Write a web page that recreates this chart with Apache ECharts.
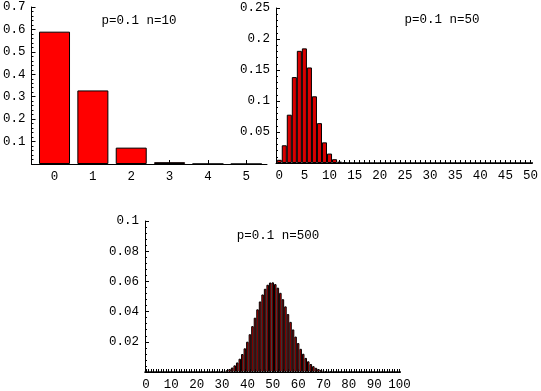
<!DOCTYPE html>
<html>
<head>
<meta charset="utf-8">
<script src="https://cdn.jsdelivr.net/npm/echarts@6/dist/echarts.min.js"></script>
<style>
html,body{margin:0;padding:0;background:#fff;}
#chart{width:541px;height:391px;}
</style>
</head>
<body>
<div id="chart"></div>
<script>
// ---- data ----
const titles = ['p=0.1 n=10', 'p=0.1 n=50', 'p=0.1 n=500'];

// panel 1: x = 0..5
const vals1 = [0.590, 0.328, 0.073, 0.0081, 0.0005, 0.00001];
// panel 2: x = 0..50
const vals2 = [0.00515, 0.0286, 0.0779, 0.1386, 0.1809, 0.1849, 0.1541, 0.1076, 0.0643, 0.0333,
  0.0152, 0.0061, 0.0022, 0.0007, 0.0002, 0.00006, 0.00001, 0.000003, 0, 0,
  0, 0, 0, 0, 0, 0, 0, 0, 0, 0,
  0, 0, 0, 0, 0, 0, 0, 0, 0, 0,
  0, 0, 0, 0, 0, 0, 0, 0, 0, 0,
  0];
// panel 3: x = 0..100
const vals3 = [0, 0, 0, 0, 0, 0, 0, 0, 0, 0,
  0, 0, 0, 0, 0, 0, 0, 0, 0, 0,
  0, 0.0000007, 0.0000018, 0.0000041, 0.0000091, 0.0000192, 0.000039, 0.0000761, 0.000143, 0.000258,
  0.000451, 0.00076, 0.001237, 0.001949, 0.002974, 0.004399, 0.006313, 0.008797, 0.011909, 0.015675,
  0.020073, 0.025024, 0.030386, 0.035961, 0.0415, 0.046726, 0.051353, 0.055117, 0.057796, 0.059238,
  0.05937, 0.058206, 0.055843, 0.052448, 0.048239, 0.043464, 0.038376, 0.033214, 0.028188, 0.023463,
  0.019162, 0.015358, 0.012083, 0.009334, 0.007081, 0.005278, 0.003865, 0.002782, 0.001968, 0.001369,
  0.000937, 0.00063, 0.000417, 0.000272, 0.000174, 0.00011, 0.0000684, 0.0000418, 0.0000252, 0.000015,
  0.0000087, 0.000005, 0.0000029, 0.0000016, 0.0000009, 0.0000005, 0.0000003, 0, 0, 0,
  0, 0, 0, 0, 0, 0, 0, 0, 0, 0,
  0];

// tick labels
const xLabels1 = [0, 1, 2, 3, 4, 5];
const xLabels2 = [0, 5, 10, 15, 20, 25, 30, 35, 40, 45, 50];
const xLabels3 = [0, 10, 20, 30, 40, 50, 60, 70, 80, 90, 100];
const yLabels1 = [0.1, 0.2, 0.3, 0.4, 0.5, 0.6, 0.7];
const yLabels2 = [0.05, 0.1, 0.15, 0.2, 0.25];
const yLabels3 = [0.02, 0.04, 0.06, 0.08, 0.1];

// ---- layout ----
const FONT = 'Liberation Mono';
const grids = [
  {left: 29, top: 7, width: 238, height: 157, xmin: -0.6, xmax: 5.54, ymax: 0.7, yint: 0.1, barFrac: 0.8, color: '#ff0000'},
  {left: 276, top: 8, width: 257, height: 155, xmin: -0.65, xmax: 50.25, ymax: 0.25, yint: 0.05, barFrac: 1, color: '#d80000'},
  {left: 145, top: 221, width: 255, height: 155, xmin: -0.35, xmax: 100.15, ymax: 0.1, yint: 0.02, barFrac: 1, color: '#d80000'}
];
const valsAll = [vals1, vals2, vals3];
const xLabAll = [xLabels1, xLabels2, xLabels3];
const yLabAll = [yLabels1, yLabels2, yLabels3];

function intTicks(n) { const a = []; for (let i = 0; i <= n; i++) a.push(i); return a; }
const xTickAll = [xLabels1, intTicks(50), intTicks(100)];

const option = {
  animation: false,
  backgroundColor: '#fff',
  grid: grids.map(g => ({left: g.left, top: g.top, width: g.width, height: g.height, containLabel: false})),
  xAxis: grids.map((g, i) => ({
    type: 'value', gridIndex: i, min: g.xmin, max: g.xmax,
    axisLine: {show: true, onZero: false, lineStyle: {color: '#000', width: 1}},
    axisTick: {show: true, inside: true, length: i === 0 ? 4 : 3, customValues: xTickAll[i], lineStyle: {color: '#000'}},
    axisLabel: {show: true, customValues: xLabAll[i], color: '#000', fontFamily: FONT, fontSize: 12.5, margin: 6},
    splitLine: {show: false}
  })),
  yAxis: grids.map((g, i) => ({
    type: 'value', gridIndex: i, min: 0, max: g.ymax, interval: g.yint,
    axisLine: {show: true, onZero: false, lineStyle: {color: '#000', width: 1}},
    axisTick: {show: true, inside: true, length: 4, lineStyle: {color: '#000'}},
    minorTick: {show: true, splitNumber: 5, length: 2, lineStyle: {color: '#000'}},
    axisLabel: {show: true, customValues: yLabAll[i], color: '#000', fontFamily: FONT, fontSize: 12.5, margin: 6},
    splitLine: {show: false}
  })),
  series: grids.map((g, i) => {
    const unit = g.width / (g.xmax - g.xmin);
    return {
      type: 'bar', xAxisIndex: i, yAxisIndex: i,
      data: valsAll[i].map((v, k) => [k, v]),
      barWidth: unit * g.barFrac,
      itemStyle: {color: g.color, borderColor: '#000', borderWidth: 1},
      emphasis: {disabled: true}
    };
  }),
  graphic: [
    {type: 'text', x: 139, y: 21, style: {text: titles[0], font: '12.5px "Liberation Mono"', fill: '#000', textAlign: 'center', textVerticalAlign: 'middle'}},
    {type: 'text', x: 442, y: 20, style: {text: titles[1], font: '12.5px "Liberation Mono"', fill: '#000', textAlign: 'center', textVerticalAlign: 'middle'}},
    {type: 'text', x: 278, y: 236, style: {text: titles[2], font: '12.5px "Liberation Mono"', fill: '#000', textAlign: 'center', textVerticalAlign: 'middle'}}
  ]
};

const chart = echarts.init(document.getElementById('chart'), null, {renderer: 'canvas'});
chart.setOption(option);
</script>
</body>
</html>
